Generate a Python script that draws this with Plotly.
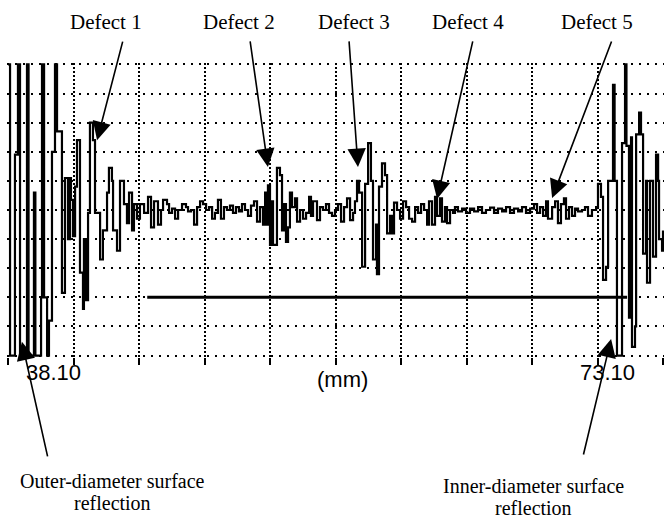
import plotly.graph_objects as go

# ---------------- data ----------------
# A-scan trace: position along the scan (mm) and amplitude (screen divisions, +-5 full scale)
scan_mm = [
    # outer-diameter echo / defect 1
    35.20, 35.33, 35.64, 35.83, 35.96, 36.40, 36.50, 36.84, 36.93, 37.29,
    37.35, 37.48, 37.67, 37.79, 37.98, 38.17, 38.30, 38.61, 38.80, 38.99, 39.12,
    39.18, 39.31, 39.44, 39.56, 39.75, 39.94, 40.00, 40.13, 40.26, 40.38,
    40.57, 40.70, 41.02, 41.20, 41.46, 41.58, 41.77, 41.84, 42.09, 42.28,
    42.53, 42.72, 42.85, 43.04, 43.16, 43.35,
    # noise
    43.54, 43.80, 44.05, 44.24, 44.43, 44.68, 44.87, 45.00, 45.25, 45.38,
    45.57, 45.76, 45.95, 46.20, 46.45, 46.58, 46.77, 46.96, 47.15, 47.34,
    47.53, 47.72, 47.91, 48.10, 48.28, 48.47, 48.66, 48.85, 49.04, 49.23,
    49.42, 49.61, 49.80, 49.99, 50.18, 50.37, 50.56, 50.75, 50.94, 51.13,
    51.32,
    # defect 2
    51.45, 51.57, 51.63, 51.76, 51.89, 51.95, 52.20, 52.39, 52.52, 52.65,
    52.77, 52.90, 53.02, 53.15, 53.34, 53.47, 53.66, 53.85, 54.04, 54.23,
    54.35, 54.48, 54.73, 54.92, 55.11, 55.30, 55.49, 55.68, 55.87, 56.06,
    56.25, 56.44, 56.63, 56.82, 57.01,
    # defect 3 / defect 4
    57.13, 57.26, 57.39, 57.58, 57.77, 57.96, 58.14, 58.27, 58.46, 58.52,
    58.65, 58.84, 59.03, 59.16, 59.35, 59.47, 59.60, 59.79, 59.98, 60.17,
    60.36, 60.55, 60.74, 60.93, 61.12, 61.31, 61.50, 61.69, 61.81, 62.00,
    62.19, 62.32, 62.51, 62.63, 62.82, 62.95, 63.14, 63.33, 63.45, 63.64,
    # quiet zone
    63.90, 64.15, 64.40, 64.66, 64.91, 65.16, 65.41, 65.67, 65.92, 66.17,
    66.43, 66.68, 66.93, 67.18, 67.44, 67.69, 67.94, 68.20, 68.45, 68.64,
    68.83, 69.02, 69.21,
    # defect 5
    69.33, 69.59, 69.78, 69.96, 70.15, 70.34, 70.47, 70.66, 70.85, 71.04,
    71.23, 71.48, 71.67, 71.86, 72.11, 72.37,
    # inner-diameter echo
    72.49, 72.68, 72.81, 73.00, 73.13, 73.44, 73.54, 73.69, 74.01, 74.20,
    74.29, 74.45, 74.58, 74.64, 74.83, 74.90, 75.09, 75.21, 75.34, 75.53,
    75.59, 75.78, 75.97, 76.16, 76.29, 76.35, 76.54, 76.60,
]
scan_amp = [
    5, -5, 1.9, 5, -5, 5, -5, 0.6, -5, -3, 5,
    -3, -5, -3.8, 2, 5, 2.7, -2.85, 1.1, -1.0, 1.1,
    0.35, -0.9, 0.8, 2.4, -2.15, -3.4, -1, -3.1, -0.1, 3.0,
    2.4, -0.1, -1.7, -0.7, 0.6, 1.45, 1.0, -0.7, -1.4, 1.0,
    0.2, -0.45, 0.6, -0.7, 0.2, -0.3,
    0.2, -0.1, 0.45, -0.6, 0.3, -0.5, 0.0, 0.35, 0.2, -0.1,
    0.05, -0.3, 0.0, 0.2, 0.1, -0.05, 0.0, -0.5, 0.1, 0.3,
    0.2, 0.0, 0.1, -0.3, -0.1, 0.35, -0.3, 0.1, 0.0, 0.15,
    -0.1, 0.1, -0.05, 0.2, 0.0, -0.2, 0.15, 0.3, -0.4, 0.1,
    -0.5,
    0.6, -0.5, 0.85, -1.2, 0.3, -1.2, 1.45, 1.2, -0.7, 0.2,
    -1.1, -0.6, 0.6, 0.1, 0.4, -0.4, 0.0, -0.3, -0.1, 0.45,
    -0.2, 0.3, -0.35, 0.1, 0.0, 0.2, -0.1, -0.2, 0.0, 0.2,
    -0.4, 0.1, 0.4, -0.35, -0.1,
    0.3, 1.0, 0.6, -1.95, 0.9, 2.3, 1.0, -1.7, -0.5, -2.2,
    0.8, 1.6, 1.2, -0.8, -0.2, -0.8, 0.25, 0.0, -0.3, 0.3,
    0.1, -0.3, -0.4, 0.1, -0.1, 0.2, 0.0, -0.5, 0.3, -0.5,
    0.45, -0.2, 0.4, -0.4, 0.1, -0.45, 0.0, -0.1, 0.1, -0.05,
    0.05, -0.1, 0.05, -0.05, 0.1, -0.1, 0.0, 0.08, -0.1, 0.05,
    -0.05, 0.1, -0.1, 0.05, -0.05, 0.1, -0.1, 0.05, 0.2, -0.1,
    0.1, -0.2, 0.3,
    -0.3, 0.1, 0.3, -0.45, 0.2, 0.4, -0.3, 0.1, -0.2, 0.05,
    -0.05, 0.0, 0.1, -0.2, 0.0, 0.1,
    0.9, 0.45, -2.4, -1.95, 1.0, 4.3, 1.0, -5, 2.3, 5,
    2.2, -3.7, 2.5, -4.7, -4, 2.6, 3.35, 2.6, -1.5, 1.0,
    -2.5, 1.0, -1.6, 1.9, 1.0, -1.0, -1.4, -0.7,
]

# gate bar
gate_mm = [44.0, 74.33]
gate_level = -3.0

# axis labels
axis_label_mm = [38.10, 73.10]
axis_label_txt = ["38.10", "73.10"]
axis_unit = "(mm)"

# defect labels and the point each arrow touches (mm, amplitude)
defect_names = ["Defect 1", "Defect 2", "Defect 3", "Defect 4", "Defect 5"]
defect_tip_mm = [40.83, 51.63, 57.32, 62.32, 69.59]
defect_tip_amp = [2.40, 1.48, 1.48, 0.38, 0.41]

surface_names = [["Outer-diameter surface", "reflection"],
                 ["Inner-diameter surface", "reflection"]]
surface_tip_mm = [36.08, 73.32]
surface_tip_amp = [-4.53, -4.43]

# ---------------- figure ----------------
fig = go.Figure()
fig.add_trace(go.Scatter(x=scan_mm, y=scan_amp, mode="lines",
                         line=dict(color="black", width=2.2, shape="hv"),
                         hoverinfo="skip", showlegend=False))
fig.add_trace(go.Scatter(x=gate_mm, y=[gate_level, gate_level], mode="lines",
                         line=dict(color="black", width=3),
                         hoverinfo="skip", showlegend=False))

serif = dict(family="Liberation Serif", size=21, color="black")
serif_small = dict(family="Liberation Serif", size=20, color="black")
sans = dict(family="Liberation Sans", size=22, color="black")

ann = []
label_paper_x = [0.150, 0.353, 0.528, 0.702, 0.898]
tail_dx = [26, -18, -9, 36, 60]
tail_dy = [-100, -127, -127, -159, -158]
for i, name in enumerate(defect_names):
    ann.append(dict(text=name, xref="paper", yref="paper", x=label_paper_x[i], y=1.139,
                    xanchor="center", yanchor="middle", showarrow=False, font=serif))
    ann.append(dict(text="", x=defect_tip_mm[i], y=defect_tip_amp[i], xref="x", yref="y",
                    showarrow=True, ax=tail_dx[i], ay=tail_dy[i], arrowhead=2,
                    arrowsize=2.3, arrowwidth=1.6, arrowcolor="black", standoff=0))

surf_x = [0.161, 0.802]
surf_y = [[-0.422, -0.497], [-0.440, -0.512]]
surf_dx = [26, -28]
surf_dy = [116, 117]
for i, lines in enumerate(surface_names):
    for j, t in enumerate(lines):
        ann.append(dict(text=t, xref="paper", yref="paper", x=surf_x[i], y=surf_y[i][j],
                        xanchor="center", yanchor="middle", showarrow=False,
                        font=serif_small))
    ann.append(dict(text="", x=surface_tip_mm[i], y=surface_tip_amp[i], xref="x", yref="y",
                    showarrow=True, ax=surf_dx[i], ay=surf_dy[i], arrowhead=2,
                    arrowsize=2.3, arrowwidth=1.6, arrowcolor="black", standoff=0))

for v, t in zip(axis_label_mm, axis_label_txt):
    ann.append(dict(text=t, x=v, xref="x", y=-0.054, yref="paper", xanchor="center",
                    yanchor="middle", showarrow=False, font=sans))
ann.append(dict(text=axis_unit, x=0.510, xref="paper", y=-0.078, yref="paper",
                xanchor="center", yanchor="middle", showarrow=False, font=sans))

fig.update_layout(
    width=665, height=520,
    margin=dict(l=7, r=1, t=63, b=163),
    paper_bgcolor="white", plot_bgcolor="white",
    annotations=ann,
    xaxis=dict(range=[35.137, 76.663], tick0=35.2, dtick=4.14, showgrid=True,
               gridcolor="black", griddash="2px,2px", gridwidth=1.5,
               ticks="outside", ticklen=7, tickwidth=1.5, tickcolor="black",
               showticklabels=False, zeroline=False, showline=False, fixedrange=True),
    yaxis=dict(range=[-5.05, 5.05], tick0=-5, dtick=1, showgrid=True,
               gridcolor="black", griddash="2px,6px", gridwidth=2,
               ticks="", showticklabels=False, zeroline=False, showline=False,
               fixedrange=True),
    showlegend=False,
)

fig.write_html("out.html")
